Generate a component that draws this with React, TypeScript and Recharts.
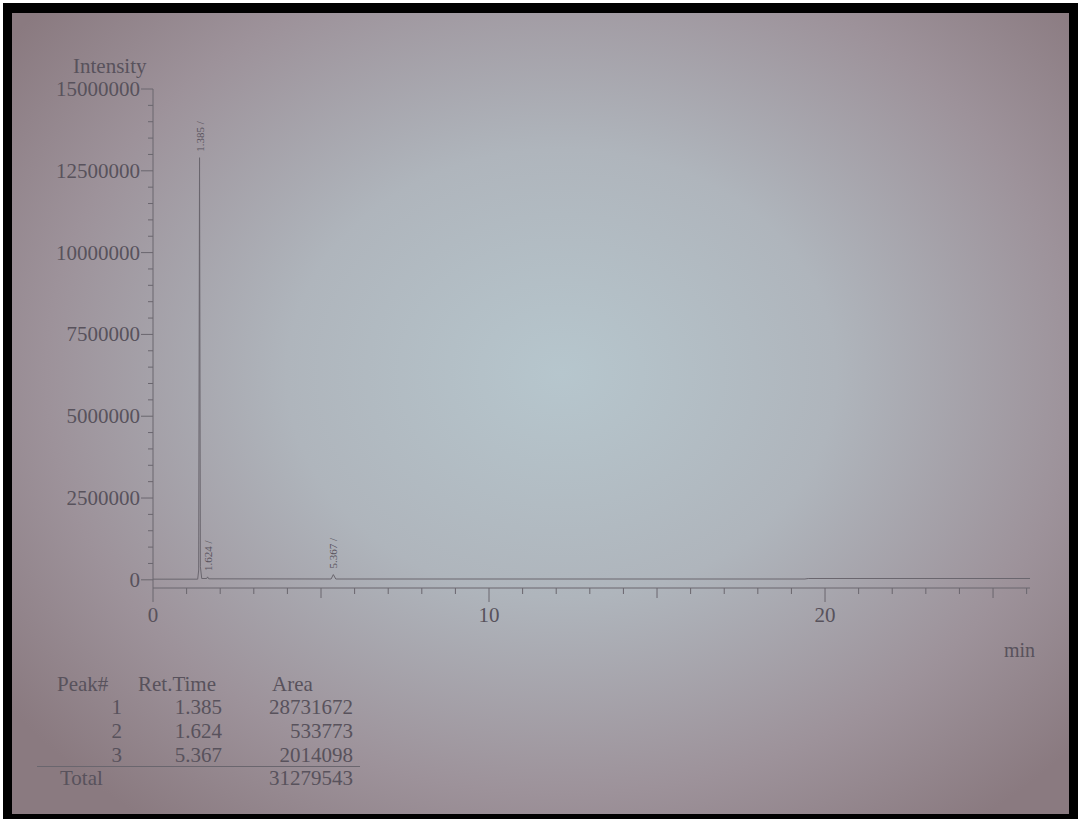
import { LineChart, Line, XAxis, YAxis } from 'recharts';

// chromatogram trace (time in min, intensity)
const times = [0, 1.33, 1.36, 1.385, 1.41, 1.45, 1.6, 1.624, 1.66, 5.3, 5.367, 5.44, 19.4, 19.5, 26.1];
const intensity = [20000, 20000, 300000, 12900000, 400000, 40000, 40000, 90000, 30000, 25000, 160000, 25000, 25000, 40000, 40000];

// peak table
const peakNums = ['1', '2', '3'];
const retTimes = ['1.385', '1.624', '5.367'];
const areas = ['28731672', '533773', '2014098'];
const totalArea = '31279543';
const peakTimes = [1.385, 1.624, 5.367];

// axis ticks
const yMajor = [0, 2500000, 5000000, 7500000, 10000000, 12500000, 15000000];
const xMajor = [0, 10, 20];
const xMid = [5, 15, 25];

const yTicks: number[] = [];
for (let v = 0; v <= 15000000; v += 500000) yTicks.push(v);
const xTicks: number[] = [];
for (let m = 0; m <= 26; m++) xTicks.push(m);

const data = times.map((t, i) => ({ t, v: intensity[i] }));

const INK = '#58525c';
const LINE = '#6a666e';
const FONT = '"Liberation Serif", "Times New Roman", serif';

const YTick = ({ x, y, payload }: any) => {
    const major = yMajor.includes(payload.value);
    return (
        <g>
            <line x1={x - (major ? 12 : 5)} y1={y} x2={x} y2={y} stroke={LINE} />
            {major && (
                <text x={x - 13} y={y} dy={7} textAnchor="end" fill={INK} fontSize={21} fontFamily={FONT}>
                    {payload.value}
                </text>
            )}
        </g>
    );
};

const XTick = ({ x, y, payload }: any) => {
    const major = xMajor.includes(payload.value);
    const mid = xMid.includes(payload.value);
    const len = major ? 14 : mid ? 10 : 6;
    return (
        <g>
            <line x1={x} y1={y} x2={x} y2={y + len} stroke={LINE} />
            {major && (
                <text x={x} y={y + 34} textAnchor="middle" fill={INK} fontSize={21} fontFamily={FONT}>
                    {payload.value}
                </text>
            )}
        </g>
    );
};

const PeakDot = (props: any) => {
    const { cx, cy, payload, index } = props;
    if (!peakTimes.includes(payload.t)) return <g key={`d${index}`} />;
    return (
        <g key={`d${index}`}>
            <text
                x={cx + 4}
                y={cy - 6}
                transform={`rotate(-90 ${cx + 4} ${cy - 6})`}
                fill={INK}
                fontSize={11}
                fontFamily={FONT}
            >
                {payload.t.toFixed(3)} /
            </text>
        </g>
    );
};

const cell = (text: string, left: number, top: number, right?: boolean) => (
    <div
        key={`${text}-${left}-${top}`}
        style={{
            position: 'absolute',
            top,
            ...(right ? { right: 1078 - left, textAlign: 'right' as const } : { left }),
            fontFamily: FONT,
            fontSize: 21,
            lineHeight: '21px',
            color: INK,
            whiteSpace: 'nowrap',
        }}
    >
        {text}
    </div>
);

export default function App() {
    const rowTops = [697, 721, 745];
    return (
        <div style={{ position: 'fixed', left: 0, top: 0, width: 1078, height: 819, background: '#fff', overflow: 'hidden' }}>
            <div style={{ position: 'absolute', left: 3, top: 3, right: 0, bottom: 0, background: '#000' }} />
            <div
                style={{
                    position: 'absolute',
                    left: 12,
                    top: 13,
                    width: 1057,
                    height: 801,
                    background:
                        'radial-gradient(ellipse 65% 70% at 52% 45%, #b6c6cd 0%, #afb5bc 40%, #9d929a 75%, #8a7a80 100%)',
                }}
            />
            <div style={{ position: 'absolute', left: 0, top: 0 }}>
                <LineChart width={1078} height={819} data={data} margin={{ top: 89, right: 48, bottom: 171, left: 73 }}>
                    <XAxis
                        dataKey="t"
                        type="number"
                        domain={[0, 26.1]}
                        ticks={xTicks}
                        interval={0}
                        tickSize={0}
                        tickMargin={0}
                        tickLine={false}
                        height={60}
                        stroke={LINE}
                        tick={<XTick />}
                        allowDataOverflow
                    />
                    <XAxis xAxisId="top" orientation="top" type="number" domain={[0, 26.1]} height={0} tick={false} tickLine={false} stroke={LINE} />
                    <YAxis
                        type="number"
                        domain={[-250000, 15000000]}
                        ticks={yTicks}
                        interval={0}
                        tickSize={0}
                        tickMargin={0}
                        tickLine={false}
                        width={80}
                        stroke={LINE}
                        tick={<YTick />}
                        allowDataOverflow
                    />
                    <YAxis yAxisId="right" orientation="right" width={0} tick={false} tickLine={false} stroke={LINE} />
                    <Line
                        type="linear"
                        dataKey="v"
                        stroke={LINE}
                        strokeWidth={1}
                        dot={PeakDot}
                        activeDot={false}
                        isAnimationActive={false}
                    />
                </LineChart>
            </div>

            <div style={{ position: 'absolute', left: 73, top: 55, fontFamily: FONT, fontSize: 21, lineHeight: '22px', color: INK }}>Intensity</div>
            <div style={{ position: 'absolute', left: 1004, top: 640, fontFamily: FONT, fontSize: 20, lineHeight: '20px', color: INK }}>min</div>

            {cell('Peak#', 57, 674)}
            {cell('Ret.Time', 138, 674)}
            {cell('Area', 272, 674)}
            {peakNums.map((p, i) => cell(p, 122, rowTops[i], true))}
            {retTimes.map((r, i) => cell(r, 222, rowTops[i], true))}
            {areas.map((a, i) => cell(a, 353, rowTops[i], true))}
            <div style={{ position: 'absolute', left: 37, top: 766, width: 323, height: 1, background: LINE }} />
            {cell('Total', 60, 768)}
            {cell(totalArea, 353, 768, true)}
        </div>
    );
}
